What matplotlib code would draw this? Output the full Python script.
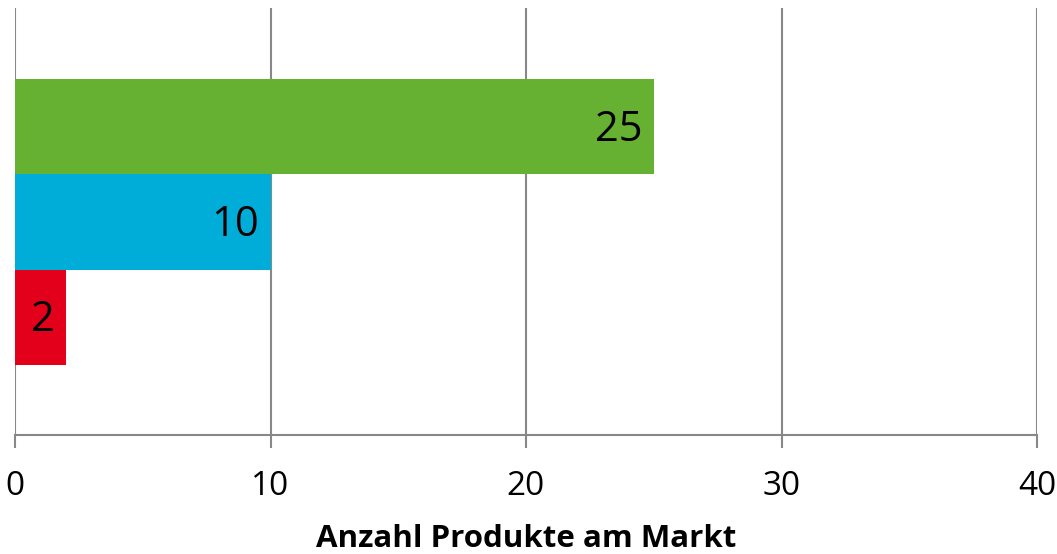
import matplotlib.pyplot as plt

# data
series = ['Rot', 'Blau', 'Grün']
values = [2, 10, 25]
colors = ['#E2001A', '#00ADD8', '#66B132']
xticks = [0, 10, 20, 30, 40]
xlabel = 'Anzahl Produkte am Markt'

plt.rcParams['font.family'] = ['Open Sans', 'DejaVu Sans']

fig = plt.figure(figsize=(10.57, 5.54), dpi=100)
ax = fig.add_axes([15 / 1057, 119 / 554, 1022 / 1057, 427 / 554])

pos = list(range(len(values)))
ax.barh(pos, values, height=1.0, color=colors, zorder=3)

# value labels inside the bar end
for p, v in zip(pos, values):
    ax.annotate(str(v), xy=(v, p), xytext=(-8, -2), textcoords='offset points',
                ha='right', va='center', fontsize=30, color='black', zorder=4)

ax.set_xlim(0, 40)
ax.set_ylim(-0.5 - 0.74, 2.5 + 0.75)
ax.set_xticks(xticks)
ax.set_yticks([])

# grid behind bars
ax.grid(axis='x', color='#888888', linewidth=1.5, zorder=0)
for s in ['top', 'right', 'left']:
    ax.spines[s].set_visible(False)
ax.spines['bottom'].set_color('#888888')
ax.spines['bottom'].set_linewidth(1.5)
ax.tick_params(axis='x', length=9, width=1.5, color='#888888',
               labelsize=24, pad=16)

ax.set_xlabel(xlabel, fontsize=22.5, fontweight='bold', labelpad=15)

fig.savefig('out.png', dpi=100)
